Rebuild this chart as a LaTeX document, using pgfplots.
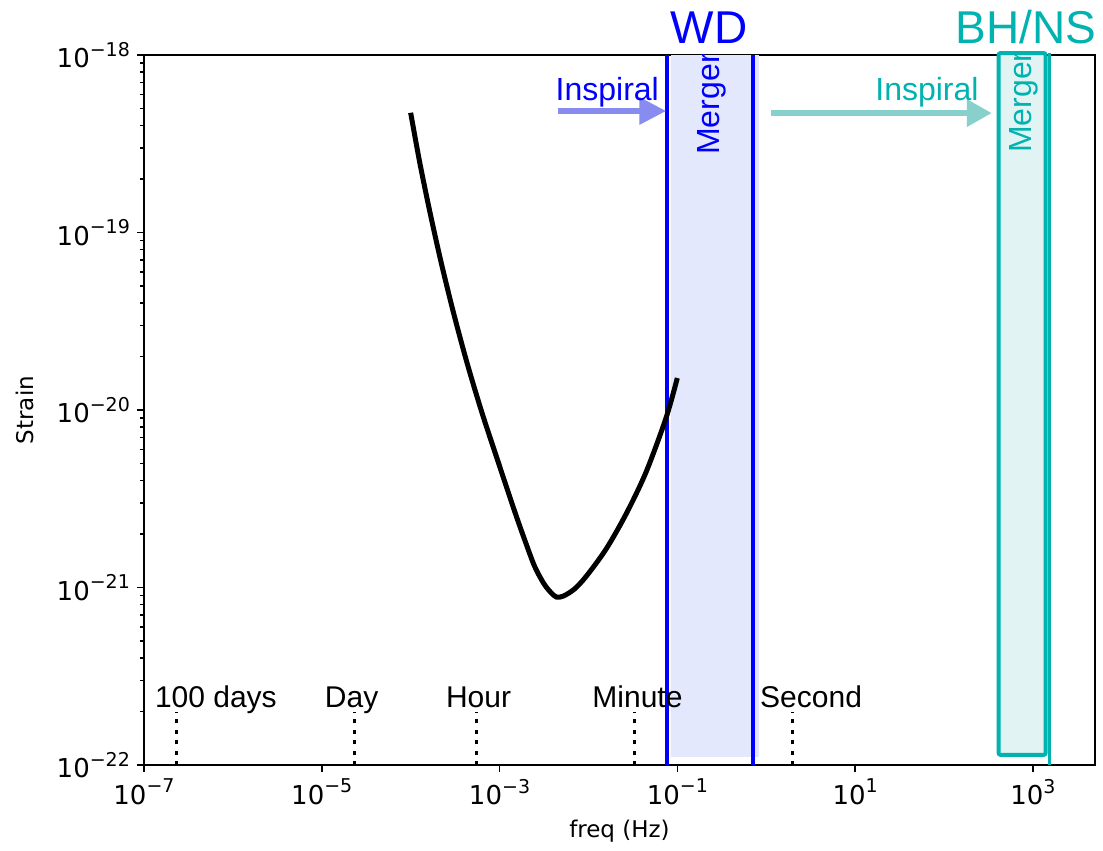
\documentclass[border=0pt]{standalone}
\usepackage{fontspec}
\setmainfont{Liberation Sans}
\newfontfamily\djv{DejaVu Sans}
\usepackage{pgfplots}
\pgfplotsset{compat=1.18}
\usetikzlibrary{arrows.meta}

\definecolor{wdblue}{RGB}{0,0,255}
\definecolor{wdfill}{RGB}{227,232,252}
\definecolor{wdarrow}{RGB}{136,140,240}
\definecolor{bhteal}{RGB}{0,178,176}
\definecolor{bhfill}{RGB}{225,244,243}
\definecolor{bharrow}{RGB}{136,208,204}

% power-of-ten tick label in the text font
\newcommand\pw[1]{10\raisebox{0.45em}{\fontsize{9.5}{10}\selectfont #1}}

\begin{document}
\begin{tikzpicture}
\begin{axis}[
  scale only axis, width=475.5pt, height=355pt,
  xmode=log, ymode=log,
  xmin=1e-7, xmax=5e3, ymin=1e-22, ymax=1e-18,
  axis line style={line width=1pt},
  tick align=outside, xtick pos=bottom, ytick pos=left,
  major tick length=3.5pt, minor tick length=2pt,
  tick style={black, line width=0.75pt},
  xtick={1e-7,1e-5,1e-3,1e-1,1e1,1e3},
  xticklabels={\pw{−7},\pw{−5},\pw{−3},\pw{−1},\pw{1},\pw{3}},
  xminorticks=false,
  ytick={1e-22,1e-21,1e-20,1e-19,1e-18},
  yticklabels={\pw{−22},\pw{−21},\pw{−20},\pw{−19},\pw{−18}},
  ticklabel style={font=\djv\fontsize{13}{13}\selectfont},
  xlabel={freq (Hz)}, ylabel={Strain},
  label style={font=\djv\fontsize{11.5}{12}\selectfont},
  xlabel style={at={(axis description cs:0.5,-0.093)}, anchor=center},
  ylabel style={at={(axis description cs:-0.125,0.5)}, anchor=center},
  clip=false,
]
% white-dwarf merger band
\addplot[fill=wdfill, draw=none] coordinates {(0.085,1.11e-22) (0.82,1.11e-22) (0.82,1e-18) (0.085,1e-18)} -- cycle;
\addplot[wdblue, line width=2pt] coordinates {(0.0765,1e-22) (0.0765,1e-18)};
\addplot[wdblue, line width=2pt] coordinates {(0.719,1e-22) (0.719,1e-18)};

% black-hole / neutron-star merger band
\addplot[fill=bhfill, draw=bhteal, line width=2pt, rounded corners=1pt] coordinates {(412,1.14e-22) (1390,1.14e-22) (1390,1.026e-18) (412,1.026e-18)} -- cycle;
\addplot[bhteal, line width=1.2pt] coordinates {(1531,1e-22) (1531,1.026e-18)};

% detector sensitivity curve
\addplot[black, line width=2.5pt, smooth, tension=0.5] table {
f h
1.000e-4 4.73e-19
1.269e-4 2.463e-19
1.656e-4 1.288e-19
2.212e-4 6.73e-20
3.041e-4 3.52e-20
4.313e-4 1.840e-20
6.36e-4 9.62e-21
9.745e-4 5.03e-21
1.501e-3 2.63e-21
1.959e-3 1.804e-21
2.474e-3 1.321e-21
3.122e-3 1.060e-21
3.741e-3 9.43e-22
4.37e-3 8.84e-22
5.24e-3 8.96e-22
6.96e-3 9.81e-22
9.50e-3 1.161e-21
1.581e-2 1.648e-21
2.652e-2 2.595e-21
4.45e-2 4.47e-21
7.46e-2 9.01e-21
1.000e-1 1.515e-20
};

% characteristic periods (f = 2/T)
\foreach \fq in {2.315e-7,2.315e-5,5.556e-4,3.333e-2,2} {
  \edef\tmp{\noexpand\addplot[black, line width=1.5pt, dash pattern=on 2pt off 3.2pt] coordinates {(\fq,1e-22) (\fq,2e-22)};}
  \tmp
}
\begin{scope}[every node/.style={anchor=base, font=\fontsize{15}{15}\selectfont}]
\node at (axis cs:6.44e-7,2.12e-22) {100 days};
\node at (axis cs:2.17e-5,2.12e-22) {Day};
\node at (axis cs:5.81e-4,2.12e-22) {Hour};
\node at (axis cs:0.0356,2.12e-22) {Minute};
\node at (axis cs:3.2,2.12e-22) {Second};
\end{scope}

% inspiral arrows
\addplot[wdarrow, line width=3.2pt, -{Triangle[length=13.5pt, width=13pt]}] coordinates {(4.49e-3,4.84e-19) (0.0752,4.84e-19)};
\addplot[bharrow, line width=3.2pt, -{Triangle[length=12.5pt, width=13pt]}] coordinates {(1.14,4.71e-19) (346,4.71e-19)};
\node[anchor=base, text=wdblue, font=\fontsize{16}{16}\selectfont] at (axis cs:0.0163,5.57e-19) {Inspiral};
\node[anchor=base, text=bhteal, font=\fontsize{16}{16}\selectfont] at (axis cs:64.4,5.57e-19) {Inspiral};

% band titles
\node[anchor=base, text=wdblue, font=\fontsize{23}{23}\selectfont] at (axis cs:0.229,1.168e-18) {WD};
\node[anchor=base, text=bhteal, font=\fontsize{23}{23}\selectfont] at (axis cs:834,1.168e-18) {BH/NS};

\coordinate (bl) at (rel axis cs:0,0);
\coordinate (tr) at (rel axis cs:1,1);
\coordinate (m1) at (axis cs:0.247,2.73e-19);
\coordinate (m2) at (axis cs:792,2.80e-19);
\end{axis}

% merger labels, cut off at the top of the frame
\begin{scope}
\clip (bl) rectangle (tr);
\node[rotate=90, anchor=west, inner sep=0pt, text=wdblue, font=\fontsize{16}{16}\selectfont] at (m1) {Merger};
\node[rotate=90, anchor=west, inner sep=0pt, text=bhteal, font=\fontsize{16}{16}\selectfont] at (m2) {Merger};
\end{scope}

\pgfresetboundingbox
\path[use as bounding box] ([shift={(-72pt,-43pt)}]bl) rectangle ([shift={(4pt,27.5pt)}]tr);
\end{tikzpicture}
\end{document}
